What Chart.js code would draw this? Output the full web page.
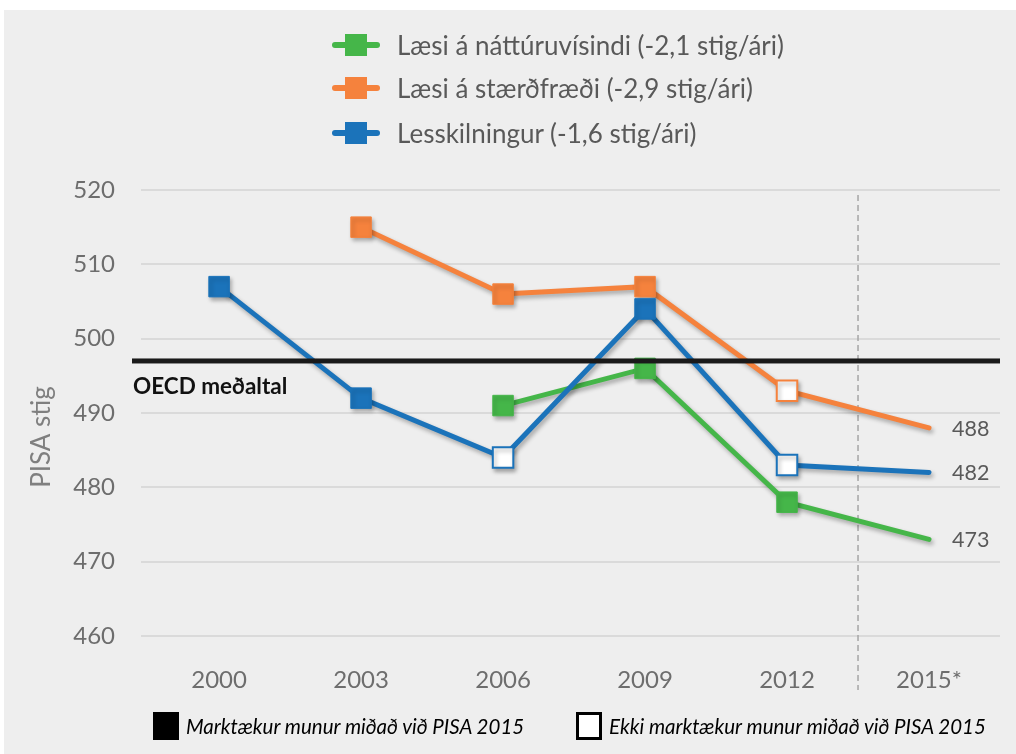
<!DOCTYPE html>
<html lang="is">
<head>
<meta charset="utf-8">
<script src="https://cdn.jsdelivr.net/npm/chart.js@4.4.1/dist/chart.umd.min.js"></script>
<style>
    body { margin: 0; background: #fff; font-family: Lato, 'Open Sans', sans-serif; }
    #panel { position: absolute; left: 4px; top: 10px; width: 1012px; height: 744px; background: #eeeeee; }
    #chart { position: absolute; left: 0; top: 0; }
    .legend-row { position: absolute; left: 332px; height: 30px; display: flex; align-items: center; font-size: 26px; color: #595959; white-space: nowrap; }
    .swatch { position: relative; width: 48px; height: 30px; margin-right: 17px; }
    .swatch .ln { position: absolute; left: 0; right: 0; top: 12px; height: 6px; border-radius: 3px; }
    .swatch .sq { position: absolute; left: 13px; top: 4px; width: 22px; height: 22px; }
    .key { position: absolute; top: 712px; height: 28px; display: flex; align-items: center; font-size: 20.5px; font-style: italic; color: #000; white-space: nowrap; }
    .key .box { width: 26px; height: 28px; box-sizing: border-box; margin-right: 7px; }
</style>
</head>
<body>
<div id="panel"></div>
<canvas id="chart" width="1016" height="754"></canvas>
<div id="legend"></div>
<div class="key" style="left:153px"><div class="box" style="background:#000"></div>Marktækur munur miðað við PISA 2015</div>
<div class="key" style="left:576px"><div class="box" style="background:#fff;border:3px solid #000"></div>Ekki marktækur munur miðað við PISA 2015</div>
<script>
const years = ['2000', '2003', '2006', '2009', '2012', '2015*'];
const seriesNames = ['Læsi á náttúruvísindi (-2,1 stig/ári)', 'Læsi á stærðfræði (-2,9 stig/ári)', 'Lesskilningur (-1,6 stig/ári)'];
const science = [null, null, 491, 496, 478, 473];
const maths = [null, 515, 506, 507, 493, 488];
const reading = [507, 492, 484, 504, 483, 482];
// 'f' = marktækur munur (fyllt), 'o' = ekki marktækur (opið), '' = enginn punktur
const scienceMarks = ['', '', 'f', 'f', 'f', ''];
const mathsMarks = ['', 'f', 'f', 'f', 'o', ''];
const readingMarks = ['f', 'f', 'o', 'f', 'o', ''];
const yTicks = [460, 470, 480, 490, 500, 510, 520];
const oecdAverage = 497;

const colors = ['#45b649', '#f5823d', '#1b73ba'];

function buildLegend() {
    const legend = document.getElementById('legend');
    const rowsY = [30, 73, 118];
    seriesNames.forEach((name, i) => {
        const row = document.createElement('div');
        row.className = 'legend-row';
        row.style.top = rowsY[i] + 'px';
        row.innerHTML = '<div class="swatch"><div class="ln" style="background:' + colors[i] + '"></div>' +
            '<div class="sq" style="background:' + colors[i] + '"></div></div>' + name;
        legend.appendChild(row);
    });
}

function makeDataset(label, values, marks, color, order) {
    return {
        label: label,
        data: values.map((v, i) => ({ x: i, y: v })),
        borderColor: color,
        borderWidth: 5,
        borderCapStyle: 'round',
        pointStyle: 'rect',
        pointRadius: marks.map(m => m ? 14.5 : 0),
        pointHoverRadius: marks.map(m => m ? 14.5 : 0),
        pointBackgroundColor: marks.map(m => m === 'o' ? '#ffffff' : color),
        pointBorderColor: color,
        pointBorderWidth: marks.map(m => m === 'o' ? 2 : 1),
        tension: 0,
        order: order
    };
}

const extras = {
    id: 'extras',
    beforeDatasetsDraw(chart) {
        const ctx = chart.ctx;
        const x = chart.scales.x;
        const area = chart.chartArea;
        // punktalína milli 2012 og 2015
        ctx.save();
        ctx.strokeStyle = '#a6a6a6';
        ctx.lineWidth = 1.5;
        ctx.setLineDash([6, 4]);
        ctx.beginPath();
        ctx.moveTo(x.getPixelForValue(4.5), area.top + 5);
        ctx.lineTo(x.getPixelForValue(4.5), area.bottom + 54);
        ctx.stroke();
        ctx.restore();

        ctx.save();
        ctx.shadowColor = 'rgba(0, 0, 0, 0.3)';
        ctx.shadowBlur = 4;
        ctx.shadowOffsetX = 2;
        ctx.shadowOffsetY = 3;
    },
    afterDatasetsDraw(chart) {
        const ctx = chart.ctx;
        ctx.restore();
        const x = chart.scales.x;
        const y = chart.scales.y;
        const area = chart.chartArea;

        const oy = y.getPixelForValue(oecdAverage);
        ctx.save();
        ctx.fillStyle = '#1a1a1a';
        ctx.fillRect(area.left - 9, oy - 2.5, area.right - area.left + 9, 5);
        ctx.fillStyle = '#111';
        ctx.font = 'bold 22.5px Lato, sans-serif';
        ctx.textBaseline = 'middle';
        ctx.fillText('OECD meðaltal', area.left - 8, oy + 26);

        ctx.font = '21.5px Lato, sans-serif';
        ctx.fillStyle = '#595959';
        [science, maths, reading].forEach(values => {
            const last = values[values.length - 1];
            ctx.fillText(String(last), x.getPixelForValue(values.length - 1) + 23, y.getPixelForValue(last) + 1);
        });

        ctx.translate(42, 437);
        ctx.rotate(-Math.PI / 2);
        ctx.textAlign = 'center';
        ctx.font = '26px Lato, sans-serif';
        ctx.fillStyle = '#7f7f7f';
        ctx.fillText('PISA stig', 0, 0);
        ctx.restore();
    }
};

function createPisaChart() {
    buildLegend();
    const ctx = document.getElementById('chart').getContext('2d');
    new Chart(ctx, {
        type: 'line',
        data: {
            datasets: [
                makeDataset(seriesNames[0], science, scienceMarks, colors[0], 2),
                makeDataset(seriesNames[1], maths, mathsMarks, colors[1], 1),
                makeDataset(seriesNames[2], reading, readingMarks, colors[2], 0)
            ]
        },
        options: {
            responsive: false,
            animation: false,
            layout: { padding: { top: 190, right: 16, bottom: 0, left: 0 } },
            plugins: { legend: { display: false }, tooltip: { enabled: false } },
            scales: {
                x: {
                    type: 'linear',
                    min: -0.55,
                    max: 5.5,
                    afterFit: scale => { scale.height = 118; },
                    grid: { display: false },
                    border: { display: false },
                    ticks: {
                        stepSize: 1,
                        includeBounds: false,
                        padding: 22,
                        color: '#6d6d6d',
                        font: { family: 'Lato', size: 24 },
                        callback: v => years[v] || ''
                    }
                },
                y: {
                    min: yTicks[0],
                    max: yTicks[yTicks.length - 1],
                    afterFit: scale => { scale.width = 141; },
                    afterBuildTicks: scale => { scale.ticks = yTicks.map(v => ({ value: v })); },
                    grid: { color: '#dadada', lineWidth: 2, drawTicks: false },
                    border: { display: false },
                    ticks: {
                        padding: 26,
                        color: '#6d6d6d',
                        font: { family: 'Lato', size: 24 }
                    }
                }
            }
        },
        plugins: [extras]
    });
}

document.addEventListener('DOMContentLoaded', createPisaChart);
</script>
</body>
</html>
